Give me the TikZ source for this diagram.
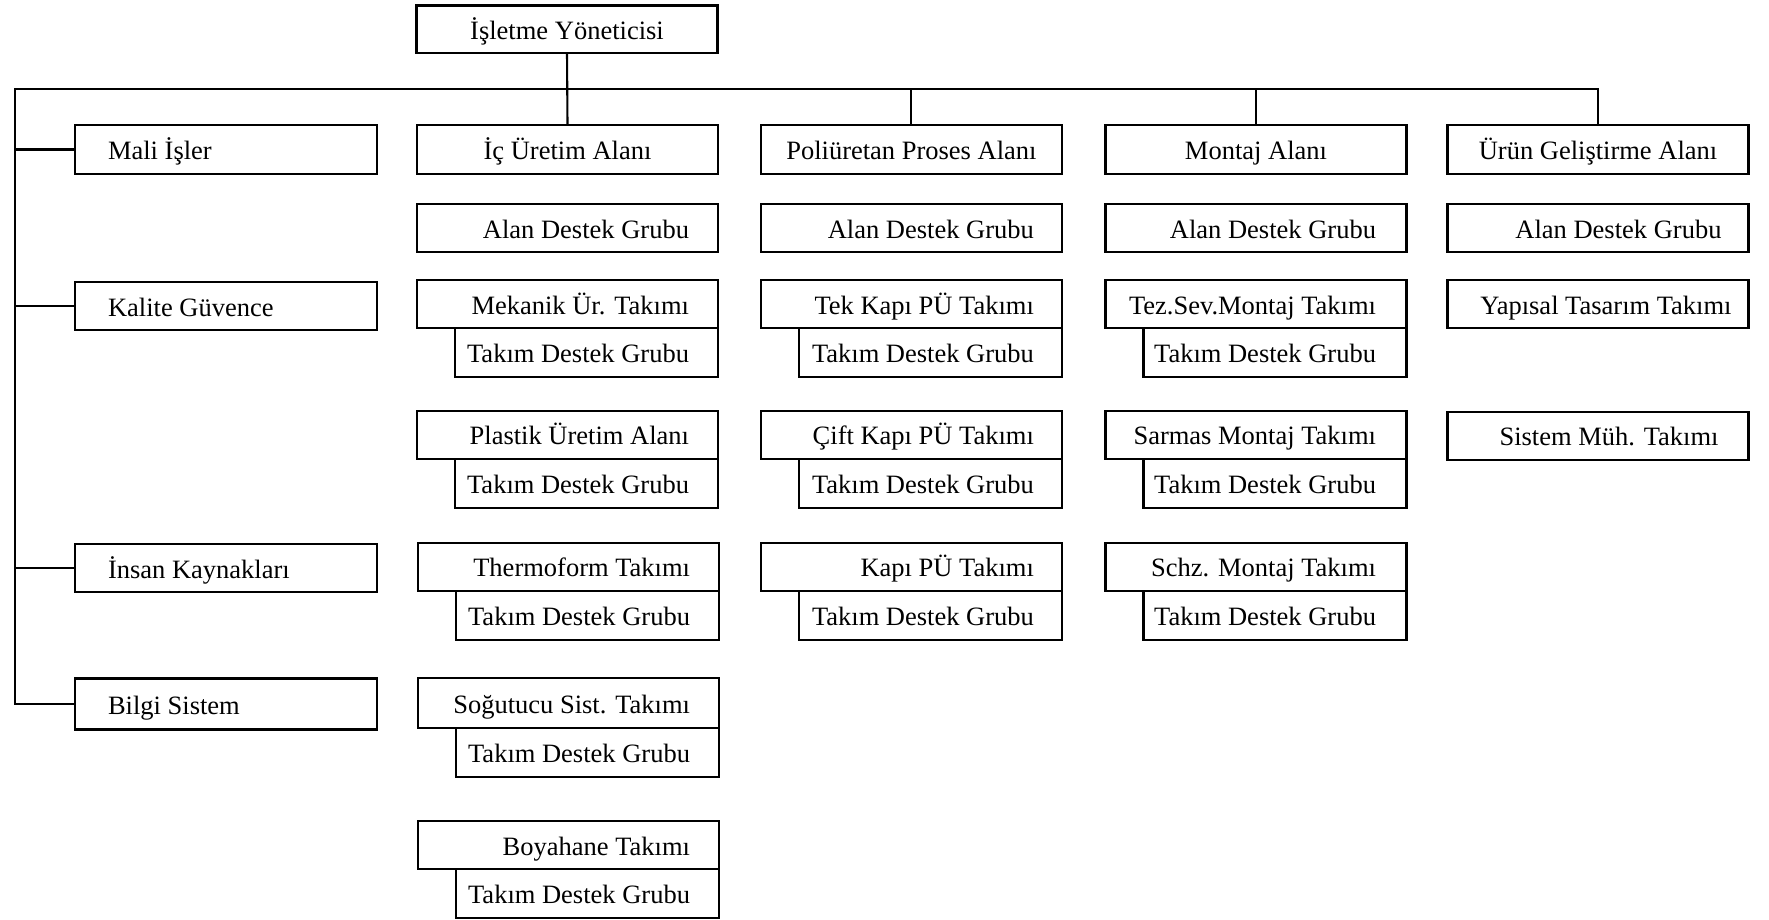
\documentclass[tikz,border=0pt]{standalone}
\usepackage{fontspec}
\setmainfont{Liberation Serif}
% text pushed to the right (or left) edge of a fixed-width slot
\newcommand{\rtxt}[2]{\makebox[#1][r]{#2}}
\newcommand{\ltxt}[2]{\makebox[#1][l]{#2}}
\begin{document}
\begin{tikzpicture}[x=1pt,y=-1pt,
  every node/.style={font=\fontsize{26.5}{30}\selectfont},
  unit/.style={draw, line width=2.1pt, rectangle, inner sep=0pt, outer sep=0pt,
               text height=21pt, text depth=1pt,
               minimum width=301pt, minimum height=48.5pt},
  subunit/.style={unit, minimum width=263pt, anchor=north east},
  link/.style={line width=2.1pt}]
\useasboundingbox (0,0) rectangle (1769,920);

% top management
\node[unit, minimum height=47.5pt] (top) at (567,29.3) {İşletme Yöneticisi};

% staff functions on the left
\node[unit, minimum width=302pt] (mali)   at (226,149.5) {\ltxt{236pt}{Mali İşler}};
\node[unit, minimum width=302pt] (kalite) at (226,306)   {\ltxt{236pt}{Kalite Güvence}};
\node[unit, minimum width=302pt] (insan)  at (226,568)   {\ltxt{236pt}{İnsan Kaynakları}};
\node[unit, minimum width=302pt, minimum height=51pt] (bilgi) at (226,704) {\ltxt{236pt}{Bilgi Sistem}};

% area heads
\node[unit] (ic)     at (567.5,149.5) {İç Üretim Alanı};
\node[unit] (poli)   at (911.4,149.5) {Poliüretan Proses Alanı};
\node[unit] (montaj) at (1256,149.5)  {Montaj Alanı};
\node[unit] (urun)   at (1598,149.5)  {Ürün Geliştirme Alanı};

% İç Üretim Alanı column
\node[unit] (icA) at (567.5,228) {\rtxt{243pt}{Alan Destek Grubu}};
\node[unit] (icB) at (567.5,304)   {\rtxt{243pt}{Mekanik Ür. Takımı}};
\node[subunit] (icBs) at (icB.south east) {\rtxt{205pt}{Takım Destek Grubu}};
\node[unit] (icC) at (567.5,434.8) {\rtxt{243pt}{Plastik Üretim Alanı}};
\node[subunit] (icCs) at (icC.south east) {\rtxt{205pt}{Takım Destek Grubu}};
\node[unit] (icD) at (568.5,566.8) {\rtxt{243pt}{Thermoform Takımı}};
\node[subunit] (icDs) at (icD.south east) {\rtxt{205pt}{Takım Destek Grubu}};
\node[unit, minimum height=50pt] (icE) at (568.5,703.3) {\rtxt{243pt}{Soğutucu Sist. Takımı}};
\node[subunit] (icEs) at (icE.south east) {\rtxt{205pt}{Takım Destek Grubu}};
\node[unit] (icF) at (568.5,845) {\rtxt{243pt}{Boyahane Takımı}};
\node[subunit] (icFs) at (icF.south east) {\rtxt{205pt}{Takım Destek Grubu}};

% Poliüretan Proses Alanı column
\node[unit] (poA) at (911.4,228) {\rtxt{245pt}{Alan Destek Grubu}};
\node[unit] (poB) at (911.4,304)   {\rtxt{245pt}{Tek Kapı PÜ Takımı}};
\node[subunit] (poBs) at (poB.south east) {\rtxt{207pt}{Takım Destek Grubu}};
\node[unit] (poC) at (911.4,434.8) {\rtxt{245pt}{Çift Kapı PÜ Takımı}};
\node[subunit] (poCs) at (poC.south east) {\rtxt{207pt}{Takım Destek Grubu}};
\node[unit] (poD) at (911.4,566.8) {\rtxt{245pt}{Kapı PÜ Takımı}};
\node[subunit] (poDs) at (poD.south east) {\rtxt{207pt}{Takım Destek Grubu}};

% Montaj Alanı column
\node[unit] (moA) at (1256,228) {\rtxt{240pt}{Alan Destek Grubu}};
\node[unit] (moB) at (1256,304)   {\rtxt{240pt}{Tez.Sev.Montaj Takımı}};
\node[subunit] (moBs) at (moB.south east) {\rtxt{202pt}{Takım Destek Grubu}};
\node[unit] (moC) at (1256,434.8) {\rtxt{240pt}{Sarmas Montaj Takımı}};
\node[subunit] (moCs) at (moC.south east) {\rtxt{202pt}{Takım Destek Grubu}};
\node[unit] (moD) at (1256,566.8) {\rtxt{240pt}{Schz. Montaj Takımı}};
\node[subunit] (moDs) at (moD.south east) {\rtxt{202pt}{Takım Destek Grubu}};

% Ürün Geliştirme Alanı column
\node[unit] (urA) at (1598,228) {\rtxt{247pt}{Alan Destek Grubu}};
\node[unit] (urB) at (1598,304)   {\rtxt{267pt}{Yapısal Tasarım Takımı}};
\node[unit] (urC) at (1598,435.8) {\rtxt{241pt}{Sistem Müh. Takımı}};

% connectors
\coordinate (busL) at (15,89);
\draw[link] (top.south) -- (ic.north);
\draw[link] (bilgi.west) -- (bilgi.west -| busL) -- (busL) -| (urun.north);
\draw[link] (poli.north) -- (poli.north |- busL);
\draw[link] (montaj.north) -- (montaj.north |- busL);
\draw[link] (mali.west) -- (mali.west -| busL);
\draw[link] (kalite.west) -- (kalite.west -| busL);
\draw[link] (insan.west) -- (insan.west -| busL);
\end{tikzpicture}
\end{document}
